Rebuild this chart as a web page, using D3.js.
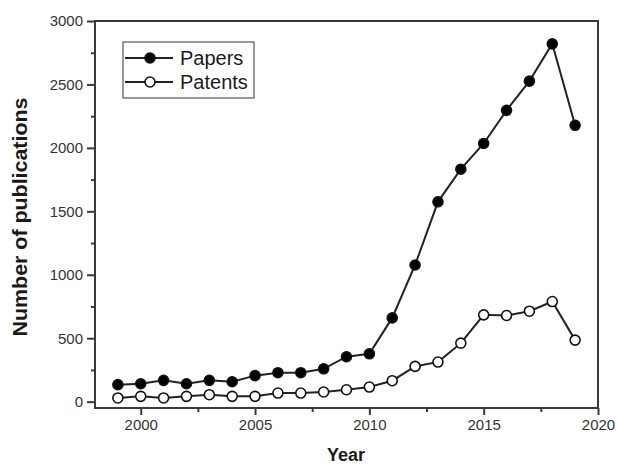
<!DOCTYPE html>
<html>
<head>
<meta charset="utf-8">
<script src="https://cdn.jsdelivr.net/npm/d3@7"></script>
<style>
  html, body { margin: 0; padding: 0; background: #fff; }
  svg { display: block; font-family: "Liberation Sans", Arial, sans-serif; }
</style>
</head>
<body>
<svg id="chart" width="617" height="466"></svg>
<script>
// Publication counts per year
const years = [1999, 2000, 2001, 2002, 2003, 2004, 2005, 2006, 2007, 2008, 2009,
               2010, 2011, 2012, 2013, 2014, 2015, 2016, 2017, 2018, 2019];
const papers = [134, 141, 168, 141, 168, 157, 205, 228, 228, 259, 354,
                377, 660, 1077, 1575, 1832, 2035, 2296, 2526, 2820, 2178];
const patents = [29, 42, 29, 42, 55, 42, 42, 68, 68, 76, 94,
                 115, 165, 278, 312, 461, 684, 679, 713, 789, 485];
const xTicks = [2000, 2005, 2010, 2015, 2020];
const yTicks = [0, 500, 1000, 1500, 2000, 2500, 3000];
const seriesNames = ["Papers", "Patents"];

const svg = d3.select("#chart");
const m = { left: 95, top: 21, right: 598, bottom: 408 };

const x = d3.scaleLinear().domain([1998, 2020]).range([m.left, m.right]);
const y = d3.scaleLinear().domain([-50, 3000]).range([m.bottom, m.top]);

const axisColor = "#3a3a3a";

// Frame
svg.append("rect")
  .attr("x", m.left).attr("y", m.top)
  .attr("width", m.right - m.left).attr("height", m.bottom - m.top)
  .attr("fill", "none").attr("stroke", axisColor).attr("stroke-width", 2);

// Minor ticks
const xMinor = d3.range(2002.5, 2020, 5);
const yMinor = d3.range(250, 3000, 500);

const xAxis = d3.axisBottom(x).tickValues(xTicks).tickFormat(d3.format("d")).tickSizeOuter(0).tickSize(7).tickPadding(4);
const yAxis = d3.axisLeft(y).tickValues(yTicks).tickFormat(d3.format("d")).tickSizeOuter(0).tickSize(8).tickPadding(4);

const gx = svg.append("g").attr("transform", `translate(0,${m.bottom})`).call(xAxis);
const gy = svg.append("g").attr("transform", `translate(${m.left},0)`).call(yAxis);
[gx, gy].forEach(g => {
  g.select(".domain").remove();
  g.selectAll(".tick line").attr("stroke", axisColor).attr("stroke-width", 2);
  g.selectAll(".tick text").attr("fill", "#333").style("font-size", "15px")
    .style("font-family", "'Liberation Sans', Arial, sans-serif");
});

svg.append("g").attr("transform", `translate(0,${m.bottom})`)
  .call(d3.axisBottom(x).tickValues(xMinor).tickFormat("").tickSizeOuter(0).tickSize(4))
  .call(g => g.select(".domain").remove())
  .call(g => g.selectAll(".tick line").attr("stroke", axisColor).attr("stroke-width", 2));
svg.append("g").attr("transform", `translate(${m.left},0)`)
  .call(d3.axisLeft(y).tickValues(yMinor).tickFormat("").tickSizeOuter(0).tickSize(4))
  .call(g => g.select(".domain").remove())
  .call(g => g.selectAll(".tick line").attr("stroke", axisColor).attr("stroke-width", 2));

// Axis titles
svg.append("text")
  .attr("x", 346).attr("y", 461)
  .attr("text-anchor", "middle")
  .style("font-size", "18px").style("font-weight", "bold").attr("fill", "#1a1a1a")
  .text("Year");
svg.append("text")
  .attr("transform", `translate(27,217) rotate(-90)`)
  .attr("text-anchor", "middle")
  .attr("textLength", 239).attr("lengthAdjust", "spacingAndGlyphs")
  .style("font-size", "20px").style("font-weight", "bold").attr("fill", "#1a1a1a")
  .text("Number of publications");

// Lines and markers
const line = d3.line().x(d => x(d[0])).y(d => y(d[1]));
const series = [
  { name: seriesNames[0], values: papers, fill: "#000" },
  { name: seriesNames[1], values: patents, fill: "#fff" }
];

series.forEach(s => {
  const pts = years.map((yr, i) => [yr, s.values[i]]);
  svg.append("path").datum(pts)
    .attr("d", line).attr("fill", "none")
    .attr("stroke", "#222").attr("stroke-width", 2);
  svg.append("g").selectAll("circle").data(pts).join("circle")
    .attr("cx", d => x(d[0])).attr("cy", d => y(d[1])).attr("r", 5)
    .attr("fill", s.fill).attr("stroke", "#111").attr("stroke-width", 1.6);
});

// Legend
const lg = svg.append("g");
lg.append("rect").attr("x", 123).attr("y", 42).attr("width", 131).attr("height", 56)
  .attr("fill", "#fff").attr("stroke", "#555").attr("stroke-width", 1.2);
series.forEach((s, i) => {
  const ly = 58 + i * 24;
  lg.append("line").attr("x1", 125).attr("x2", 173).attr("y1", ly).attr("y2", ly)
    .attr("stroke", "#222").attr("stroke-width", 2);
  lg.append("circle").attr("cx", 150).attr("cy", ly).attr("r", 5)
    .attr("fill", s.fill).attr("stroke", "#111").attr("stroke-width", 1.6);
  lg.append("text").attr("x", 180).attr("y", ly + 6.5)
    .style("font-size", "20px").attr("fill", "#1a1a1a").text(s.name);
});
</script>
</body>
</html>
